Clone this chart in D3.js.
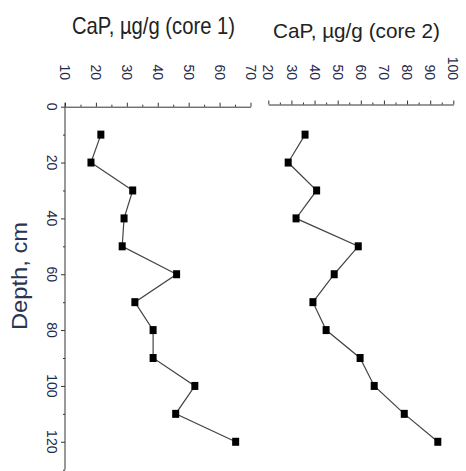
<!DOCTYPE html>
<html>
<head>
<meta charset="utf-8">
<script src="https://cdn.jsdelivr.net/npm/d3@7"></script>
<style>
  body { margin: 0; background: #fff; }
  text { font-family: "Liberation Sans", Arial, sans-serif; }
</style>
</head>
<body>
<svg id="chart"></svg>
<script>
// depth of each sample, cm
const depths = [10, 20, 30, 40, 50, 60, 70, 80, 90, 100, 110, 120];
// CaP, ug/g
const core1 = [21.6, 18.4, 31.9, 29.1, 28.5, 46.1, 32.6, 38.5, 38.5, 52, 45.8, 65.2];
const core2 = [35.9, 28.6, 40.9, 32, 58.9, 48.5, 39.3, 45, 59.7, 65.8, 78.8, 93.3];

const core1Ticks = [10, 20, 30, 40, 50, 60, 70];
const core2Ticks = [20, 30, 40, 50, 60, 70, 80, 90, 100];
const depthTicks = [0, 20, 40, 60, 80, 100, 120];

const width = 466, height = 471;

const svg = d3.select("#chart")
    .attr("width", width)
    .attr("height", height);

const x1 = d3.scaleLinear().domain([10, 70]).range([65, 250.5]);
const x2 = d3.scaleLinear().domain([20, 100]).range([268.3, 453.3]);
const y = d3.scaleLinear().domain([0, 130]).range([106.7, 469.7]);

const axisColor = "#333";
const labelColor = "#1f2a4a";

// top axis with major + minor ticks, labels rotated
function topAxis(scale, ticks, yPos) {
    const g = svg.append("g").attr("transform", `translate(0,${yPos})`);
    const minor = [];
    for (let i = 0; i < ticks.length - 1; i++) minor.push((ticks[i] + ticks[i + 1]) / 2);

    g.append("g")
        .call(d3.axisTop(scale).tickValues(ticks).tickSize(4).tickFormat("").tickSizeOuter(0))
        .call(a => a.select(".domain").attr("stroke", axisColor))
        .call(a => a.selectAll(".tick line").attr("stroke", axisColor));
    g.append("g")
        .call(d3.axisTop(scale).tickValues(minor).tickSize(2).tickFormat("").tickSizeOuter(0))
        .call(a => a.select(".domain").remove())
        .call(a => a.selectAll(".tick line").attr("stroke", axisColor));

    g.selectAll("text.lbl")
        .data(ticks)
        .join("text")
        .attr("class", "lbl")
        .attr("transform", d => `translate(${scale(d)},${80 - yPos}) rotate(90)`)
        .attr("text-anchor", "end")
        .attr("dy", "0.35em")
        .attr("font-size", 14)
        .attr("fill", labelColor)
        .text(d => d);
}

topAxis(x1, core1Ticks, 106.7);
topAxis(x2, core2Ticks, 104.5);

// depth axis
const yg = svg.append("g").attr("transform", "translate(65,0)");
yg.append("line")
    .attr("x1", 0).attr("x2", 0)
    .attr("y1", y(0) - 4).attr("y2", y(130))
    .attr("stroke", axisColor);
yg.append("g")
    .call(d3.axisLeft(y).tickValues(depthTicks).tickSize(4).tickFormat(""))
    .call(a => a.select(".domain").remove())
    .call(a => a.selectAll(".tick line").attr("stroke", axisColor));
yg.append("g")
    .call(d3.axisLeft(y).tickValues(d3.range(10, 131, 20)).tickSize(2).tickFormat(""))
    .call(a => a.select(".domain").remove())
    .call(a => a.selectAll(".tick line").attr("stroke", axisColor));

svg.selectAll("text.ylbl")
    .data(depthTicks)
    .join("text")
    .attr("class", "ylbl")
    .attr("transform", d => `translate(52,${y(d)}) rotate(90)`)
    .attr("text-anchor", "middle")
    .attr("dy", "0.35em")
    .attr("font-size", 14)
    .attr("fill", labelColor)
    .text(d => d);

// titles (condensed look)
svg.append("text")
    .attr("x", 72).attr("y", 34)
    .attr("font-size", 24)
    .attr("fill", "#222")
    .attr("textLength", 163)
    .attr("lengthAdjust", "spacingAndGlyphs")
    .text("CaP, µg/g (core 1)");

svg.append("text")
    .attr("x", 273).attr("y", 38)
    .attr("font-size", 21)
    .attr("fill", "#222")
    .attr("textLength", 167)
    .attr("lengthAdjust", "spacingAndGlyphs")
    .text("CaP, µg/g (core 2)");

svg.append("text")
    .attr("transform", "translate(27,276) rotate(-90)")
    .attr("text-anchor", "middle")
    .attr("font-size", 22)
    .attr("fill", "#2b3552")
    .attr("textLength", 108)
    .attr("lengthAdjust", "spacingAndGlyphs")
    .text("Depth, cm");

// series
function drawSeries(xs, values) {
    const pts = depths.map((d, i) => ({ depth: d, v: values[i] }));
    const line = d3.line().x(d => xs(d.v)).y(d => y(d.depth));
    svg.append("path")
        .datum(pts)
        .attr("fill", "none")
        .attr("stroke", "#444")
        .attr("stroke-width", 1.2)
        .attr("d", line);
    svg.append("g")
        .selectAll("rect")
        .data(pts)
        .join("rect")
        .attr("x", d => xs(d.v) - 3.5)
        .attr("y", d => y(d.depth) - 4)
        .attr("width", 7)
        .attr("height", 8)
        .attr("fill", "#000");
}

drawSeries(x1, core1);
drawSeries(x2, core2);
</script>
</body>
</html>
